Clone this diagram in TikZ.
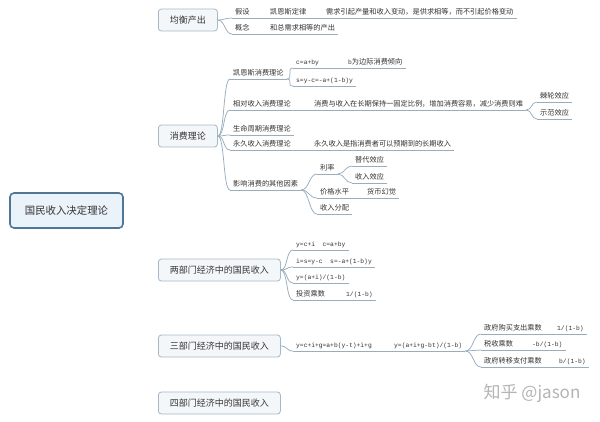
\documentclass[tikz,border=0pt]{standalone}
\usepackage{fontspec}
\setmainfont{Noto Sans CJK SC}
\newfontfamily\mono{Liberation Mono}
\usetikzlibrary{backgrounds}
\definecolor{lc}{HTML}{98AEBE}
\definecolor{txt}{HTML}{333333}
\definecolor{rootfill}{HTML}{EAF2FA}
\definecolor{rootdraw}{HTML}{4F7697}
\definecolor{boxfill}{HTML}{F4F7FA}
\definecolor{boxdraw}{HTML}{A5B8C7}
\definecolor{wmc}{HTML}{B4B4B4}
\newcommand{\fs}{\fontsize{7.2pt}{8pt}\selectfont}
\newcommand{\fm}{\mono\fontsize{6.3pt}{8pt}\selectfont}
\begin{document}
\begin{tikzpicture}[x=1pt,y=-1pt,
  rootbox/.style={draw=rootdraw, line width=1.6pt, rounded corners=4pt, fill=rootfill,
    minimum width=113pt, minimum height=35pt, font=\fontsize{10.4pt}{12pt}\selectfont, text=txt},
  topic/.style={draw=boxdraw, line width=0.8pt, fill=boxfill, rounded corners=3pt, anchor=west,
    inner xsep=11.5pt, minimum height=22pt, font=\fontsize{9pt}{11pt}\selectfont, text=txt},
  item/.style={font=\fs, text=txt, inner xsep=3pt, inner ysep=1.5pt, text height=5.5pt,
    text depth=1.5pt, anchor=south west},
  fitem/.style={item, font=\fm},
  conn/.style={draw=lc, line width=0.75pt},
  uline/.style={draw=lc, line width=0.75pt}]
\useasboundingbox (0,0) rectangle (600,421);
\fill[white] (0,0) rectangle (600,421);

% main nodes
\node[rootbox] (root) at (66.5,210.5) {国民收入决定理论};
\node[topic] (L1) at (158,20) {均衡产出};
\node[topic] (L2) at (158,136) {消费理论};
\node[topic] (L3) at (158,270) {两部门经济中的国民收入};
\node[topic] (L4) at (158,346) {三部门经济中的国民收入};
\node[topic] (L5) at (158,403) {四部门经济中的国民收入};

% 均衡产出
\node[item] (a1) at (232,18) {假设};
\node[item] (a1b) at (267,18) {凯恩斯定律};
\node[item] (a1c) at (323,18) {需求引起产量和收入变动，是供求相等，而不引起价格变动};
\node[item] (a2) at (232,34) {概念};
\node[item] (a2b) at (267,34) {和总需求相等的产出};

% 消费理论
\node[item] (b1) at (230,79) {凯恩斯消费理论};
\node[fitem] (b1a) at (293,68) {c=a+by};
\node[item] (b1a2) at (345,68) {{\fm b}为边际消费倾向};
\node[fitem] (b1b) at (293,86) {s=y-c=-a+(1-b)y};
\node[item] (b2) at (230,110) {相对收入消费理论};
\node[item] (b2b) at (311,110) {消费与收入在长期保持一固定比例，增加消费容易，减少消费则难};
\node[item] (b2c) at (537,102) {棘轮效应};
\node[item] (b2d) at (537,119) {示范效应};
\node[item] (b3) at (230,135) {生命周期消费理论};
\node[item] (b4) at (230,150) {永久收入消费理论};
\node[item] (b4b) at (311,150) {永久收入是指消费者可以预期到的长期收入};
\node[item] (b5) at (230,190) {影响消费的其他因素};
\node[item] (c1) at (317,174) {利率};
\node[item] (c1a) at (352,166) {替代效应};
\node[item] (c1b) at (352,183) {收入效应};
\node[item] (c2) at (317,198) {价格水平};
\node[item] (c2b) at (364,198) {货币幻觉};
\node[item] (c3) at (317,214) {收入分配};

% 两部门
\node[fitem] (d1) at (293,250) {y=c+i\ \ c=a+by};
\node[fitem] (d2) at (293,267) {i=s=y-c\ \ s=-a+(1-b)y};
\node[fitem] (d3) at (293,283) {y=(a+i)/(1-b)};
\node[item] (d4) at (293,300) {投资乘数};
\node[fitem] (d4b) at (343,300) {1/(1-b)};

% 三部门
\node[fitem] (e1) at (293,351) {y=c+i+g=a+b(y-t)+i+g};
\node[fitem] (e1b) at (391,351) {y=(a+i+g-bt)/(1-b)};
\node[item] (f1) at (481,334) {政府购买支出乘数};
\node[fitem] (f1b) at (554,334) {1/(1-b)};
\node[item] (f2) at (481,350) {税收乘数};
\node[fitem] (f2b) at (529,350) {-b/(1-b)};
\node[item] (f3) at (481,367) {政府转移支付乘数};
\node[fitem] (f3b) at (556,367) {b/(1-b)};

% underlines
\foreach \n in {a1,a1b,a1c,a2,a2b,b1,b1a,b1a2,b1b,b2,b2b,b2c,b2d,b3,b4,b4b,b5,
  c1,c1a,c1b,c2,c2b,c3,d1,d2,d3,d4,d4b,e1,e1b,f1,f1b,f2,f2b,f3,f3b}
  \draw[uline] (\n.south west) -- (\n.south east);

\begin{scope}[on background layer]
\coordinate (rc) at (95,212);
\draw[conn] (rc) .. controls (105,60) and (120,20) .. (L1.west);
\draw[conn] (rc) .. controls (110,150) and (125,136) .. (L2.west);
\draw[conn] (rc) .. controls (115,235) and (130,270) .. (L3.west);
\draw[conn] (rc) .. controls (105,320) and (125,346) .. (L4.west);
\draw[conn] (rc) .. controls (100,380) and (120,403) .. (L5.west);
\end{scope}

% level connectors
\foreach \c in {a1,a2}
  \draw[conn] (L1.east) .. controls +(7,0) and +(-7,0) .. (\c.south west);
\foreach \c in {b1,b2,b3,b4,b5}
  \draw[conn] (L2.east) .. controls +(7,0) and +(-7,0) .. (\c.south west);
\foreach \c in {d1,d2,d3,d4}
  \draw[conn] (L3.east) .. controls +(7,0) and +(-7,0) .. (\c.south west);
\draw[conn] (L4.east) .. controls +(7,0) and +(-7,0) .. (e1.south west);
\foreach \c in {b1a,b1b}
  \draw[conn] (b1.south east) .. controls +(7,0) and +(-7,0) .. (\c.south west);
\foreach \c in {b2c,b2d}
  \draw[conn] (b2b.south east) .. controls +(6,0) and +(-6,0) .. (\c.south west);
\foreach \c in {c1,c2,c3}
  \draw[conn] (b5.south east) .. controls +(8,0) and +(-8,0) .. (\c.south west);
\foreach \c in {c1a,c1b}
  \draw[conn] (c1.south east) .. controls +(7,0) and +(-7,0) .. (\c.south west);
\foreach \c in {f1,f2,f3}
  \draw[conn] (e1b.south east) .. controls +(8,0) and +(-8,0) .. (\c.south west);
% chains
\draw[conn] (a1.south east) -- (a1b.south west);
\draw[conn] (a1b.south east) -- (a1c.south west);
\draw[conn] (a2.south east) -- (a2b.south west);
\draw[conn] (b1a.south east) -- (b1a2.south west);
\draw[conn] (b2.south east) -- (b2b.south west);
\draw[conn] (b4.south east) -- (b4b.south west);
\draw[conn] (c2.south east) -- (c2b.south west);
\draw[conn] (d4.south east) -- (d4b.south west);
\draw[conn] (e1.south east) -- (e1b.south west);
\draw[conn] (f1.south east) -- (f1b.south west);
\draw[conn] (f2.south east) -- (f2b.south west);
\draw[conn] (f3.south east) -- (f3b.south west);

% watermark
\node[text=wmc, font=\fontsize{17pt}{20pt}\selectfont] (wm) at (532,393) {知乎 @jason};
\end{tikzpicture}
\end{document}
